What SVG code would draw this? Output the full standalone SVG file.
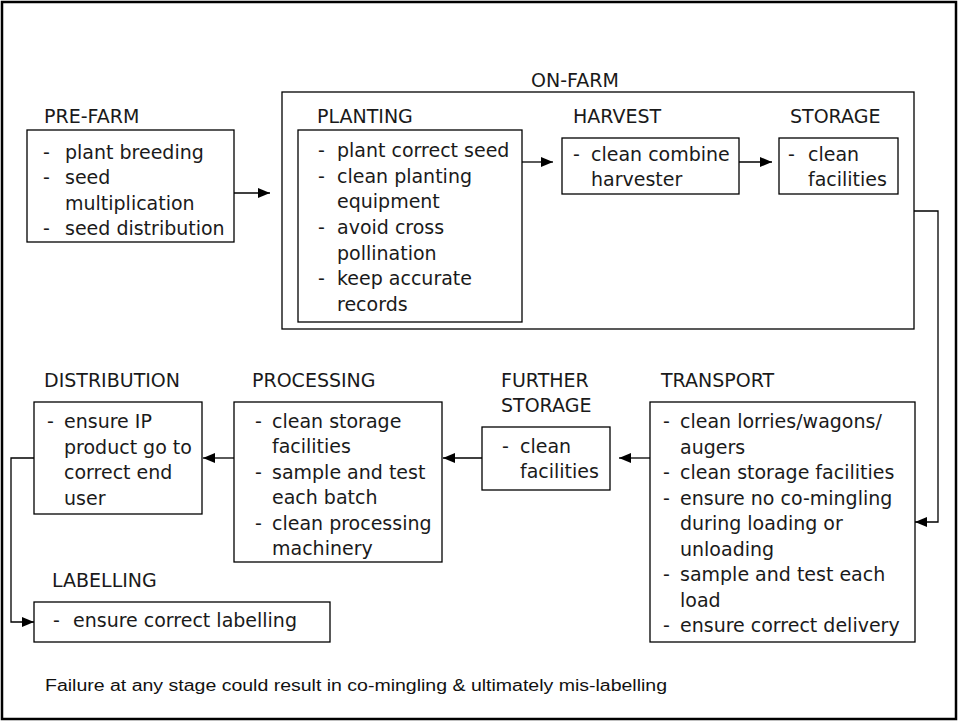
<svg xmlns="http://www.w3.org/2000/svg" width="958" height="722" viewBox="0 0 958 722">
<style>
.b{fill:#fff;stroke:#000;stroke-width:1.3}
.t{font-family:"DejaVu Sans",Verdana,sans-serif;font-size:19px;fill:#1a1a1a}
.f{font-family:"Liberation Sans Narrow","Liberation Sans",Arial,sans-serif;font-size:16px;fill:#111}
.c{fill:none;stroke:#000;stroke-width:1.3}
</style>
<defs>
<marker id="a" viewBox="0 0 12 10" refX="12" refY="5" markerWidth="12" markerHeight="10" markerUnits="userSpaceOnUse" orient="auto"><path d="M0,0L12,5L0,10z" fill="#000"/></marker>
</defs>
<rect x="0" y="0" width="958" height="722" fill="#fff"/>
<rect x="2" y="2" width="954" height="717" fill="none" stroke="#000" stroke-width="2.5"/>

<g id="onfarm">
<rect class="b" x="282" y="92" width="632" height="237"/>
<text class="t" x="575" y="87" text-anchor="middle">ON-FARM</text>
</g>

<g id="prefarm">
<text class="t" x="44" y="123">PRE-FARM</text>
<rect class="b" x="27" y="130" width="207" height="112"/>
<text class="t"><tspan x="43" y="159">-</tspan><tspan x="65" y="159">plant breeding</tspan><tspan x="43" y="184">-</tspan><tspan x="65" y="184">seed</tspan><tspan x="65" y="210">multiplication</tspan><tspan x="43" y="235">-</tspan><tspan x="65" y="235">seed distribution</tspan></text>
</g>

<g id="planting">
<text class="t" x="317" y="123">PLANTING</text>
<rect class="b" x="298" y="130" width="224" height="192"/>
<text class="t"><tspan x="318" y="157">-</tspan><tspan x="337" y="157">plant correct seed</tspan><tspan x="318" y="183">-</tspan><tspan x="337" y="183">clean planting</tspan><tspan x="337" y="208">equipment</tspan><tspan x="318" y="234">-</tspan><tspan x="337" y="234">avoid cross</tspan><tspan x="337" y="260">pollination</tspan><tspan x="318" y="285">-</tspan><tspan x="337" y="285">keep accurate</tspan><tspan x="337" y="311">records</tspan></text>
</g>

<g id="harvest">
<text class="t" x="573" y="123">HARVEST</text>
<rect class="b" x="562" y="138" width="177" height="56"/>
<text class="t"><tspan x="573" y="161">-</tspan><tspan x="591" y="161">clean combine</tspan><tspan x="591" y="186">harvester</tspan></text>
</g>

<g id="storage">
<text class="t" x="790" y="123">STORAGE</text>
<rect class="b" x="779" y="138" width="119" height="56"/>
<text class="t"><tspan x="788" y="161">-</tspan><tspan x="808" y="161">clean</tspan><tspan x="808" y="186">facilities</tspan></text>
</g>

<g id="transport">
<text class="t" x="661" y="387">TRANSPORT</text>
<rect class="b" x="650" y="402" width="265" height="240"/>
<text class="t"><tspan x="663" y="428">-</tspan><tspan x="680" y="428">clean lorries/wagons/</tspan><tspan x="680" y="453.5">augers</tspan><tspan x="663" y="479">-</tspan><tspan x="680" y="479">clean storage facilities</tspan><tspan x="663" y="504.5">-</tspan><tspan x="680" y="504.5">ensure no co-mingling</tspan><tspan x="680" y="530">during loading or</tspan><tspan x="680" y="555.5">unloading</tspan><tspan x="663" y="581">-</tspan><tspan x="680" y="581">sample and test each</tspan><tspan x="680" y="606.5">load</tspan><tspan x="663" y="632">-</tspan><tspan x="680" y="632">ensure correct delivery</tspan></text>
</g>

<g id="further">
<text class="t"><tspan x="501" y="387">FURTHER</tspan><tspan x="501" y="412">STORAGE</tspan></text>
<rect class="b" x="482" y="427" width="128" height="63"/>
<text class="t"><tspan x="502" y="453">-</tspan><tspan x="520" y="453">clean</tspan><tspan x="520" y="478">facilities</tspan></text>
</g>

<g id="processing">
<text class="t" x="252" y="387">PROCESSING</text>
<rect class="b" x="234" y="402" width="208" height="160"/>
<text class="t"><tspan x="255" y="428">-</tspan><tspan x="272" y="428">clean storage</tspan><tspan x="272" y="453">facilities</tspan><tspan x="255" y="479">-</tspan><tspan x="272" y="479">sample and test</tspan><tspan x="272" y="504">each batch</tspan><tspan x="255" y="530">-</tspan><tspan x="272" y="530">clean processing</tspan><tspan x="272" y="555">machinery</tspan></text>
</g>

<g id="distribution">
<text class="t" x="44" y="387">DISTRIBUTION</text>
<rect class="b" x="34" y="402" width="168" height="112"/>
<text class="t"><tspan x="47" y="428">-</tspan><tspan x="64" y="428">ensure IP</tspan><tspan x="64" y="453.5">product go to</tspan><tspan x="64" y="479">correct end</tspan><tspan x="64" y="504.5">user</tspan></text>
</g>

<g id="labelling">
<text class="t" x="52" y="587">LABELLING</text>
<rect class="b" x="34" y="602" width="296" height="40"/>
<text class="t"><tspan x="53" y="627">-</tspan><tspan x="73" y="627">ensure correct labelling</tspan></text>
</g>

<g id="connectors">
<path class="c" d="M234,193H270" marker-end="url(#a)"/>
<path class="c" d="M522,162H553" marker-end="url(#a)"/>
<path class="c" d="M739,162H772" marker-end="url(#a)"/>
<path class="c" d="M914,211H938V522H915" marker-end="url(#a)"/>
<path class="c" d="M650,458H619" marker-end="url(#a)"/>
<path class="c" d="M482,458H443" marker-end="url(#a)"/>
<path class="c" d="M234,458H203" marker-end="url(#a)"/>
<path class="c" d="M34,458H11V622H34" marker-end="url(#a)"/>
</g>

<text class="f" x="45" y="691" textLength="622" lengthAdjust="spacingAndGlyphs">Failure at any stage could result in co-mingling &amp; ultimately mis-labelling</text>
</svg>
